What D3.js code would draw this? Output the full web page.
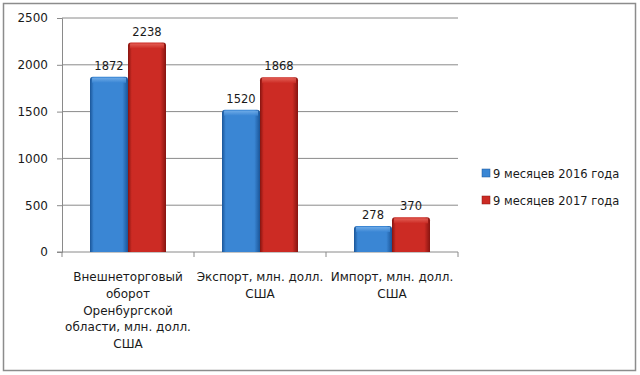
<!DOCTYPE html>
<html lang="ru">
<head>
  <meta charset="UTF-8">
  <title>Внешняя торговля</title>
  <style>
    body { margin: 0; background: #fff; }
    svg { display: block; }
    text { font-family: "DejaVu Sans", Verdana, sans-serif; fill: #1a1a1a; }
  </style>
</head>
<body>
<div class="chart"></div>
<script src="https://d3js.org/d3.v7.min.js"></script>
<script>
  // данные
  let categories = [
    ['Внешнеторговый', 'оборот', 'Оренбургской', 'области, млн. долл.', 'США'],
    ['Экспорт, млн. долл.', 'США'],
    ['Импорт, млн. долл.', 'США']
  ]
  let seriesNames = ['9 месяцев 2016 года', '9 месяцев 2017 года']
  let values2016 = [1872, 1520, 278]
  let values2017 = [2238, 1868, 370]
  let yTicks = [0, 500, 1000, 1500, 2000, 2500]

  let width = 640
  let height = 375
  let plotL = 62
  let plotR = 458
  let plotT = 18
  let plotB = 252
  let colors = [
    { dark: '#1a5598', mid: '#3a86d4', light: '#7ab3ec' },
    { dark: '#861410', mid: '#cc2b24', light: '#e86a60' }
  ]

  let svg = d3.select('.chart').append('svg').attr('width', width).attr('height', height)

  // градиенты столбиков
  let defs = svg.append('defs')
  colors.forEach((c, i) => {
    let g = defs.append('linearGradient').attr('id', 'grad' + i)
      .attr('x1', 0).attr('x2', 1).attr('y1', 0).attr('y2', 0)
    g.append('stop').attr('offset', '0%').attr('stop-color', c.dark)
    g.append('stop').attr('offset', '10%').attr('stop-color', c.mid)
    g.append('stop').attr('offset', '85%').attr('stop-color', c.mid)
    g.append('stop').attr('offset', '100%').attr('stop-color', c.dark)
    let t = defs.append('linearGradient').attr('id', 'top' + i)
      .attr('x1', 0).attr('x2', 0).attr('y1', 0).attr('y2', 1)
    t.append('stop').attr('offset', '0%').attr('stop-color', c.light)
    t.append('stop').attr('offset', '100%').attr('stop-color', c.mid)
  })

  // рамка
  svg.append('rect')
    .attr('x', 3.5).attr('y', 3.5).attr('width', 632).attr('height', 367)
    .attr('fill', 'none').attr('stroke', '#8c8c8c').attr('stroke-width', 1.5)

  let xScale = d3.scaleBand().domain(d3.range(categories.length)).range([plotL, plotR])
  let xInner = d3.scaleBand().domain(d3.range(seriesNames.length)).range([0, 76])
  let yScale = d3.scaleLinear().domain([0, 2500]).range([plotB, plotT])

  // сетка
  svg.append('g').selectAll('line').data(yTicks.filter(d => d > 0)).enter().append('line')
    .attr('x1', plotL).attr('x2', plotR)
    .attr('y1', d => yScale(d)).attr('y2', d => yScale(d))
    .attr('stroke', '#8a8a8a').attr('stroke-width', 1)

  // ось Y
  let yAxis = d3.axisLeft(yScale).tickValues(yTicks).tickFormat(d3.format('d')).tickSize(5).tickPadding(9)
  let gY = svg.append('g').attr('transform', 'translate(' + plotL + ',0)').call(yAxis)
  gY.select('.domain').attr('stroke', '#8a8a8a')
  gY.selectAll('line').attr('stroke', '#8a8a8a')
  gY.selectAll('text').attr('font-size', '12px').attr('fill', '#1a1a1a')
    .style('font-family', '"DejaVu Sans", Verdana, sans-serif')

  // ось X
  let gX = svg.append('g')
  gX.append('line').attr('x1', plotL - 5).attr('x2', plotR)
    .attr('y1', plotB).attr('y2', plotB).attr('stroke', '#8a8a8a')
  gX.selectAll('.tick').data(d3.range(categories.length + 1)).enter().append('line')
    .attr('x1', i => plotL + xScale.step() * i).attr('x2', i => plotL + xScale.step() * i)
    .attr('y1', plotB).attr('y2', plotB + 5).attr('stroke', '#8a8a8a')

  // столбики
  let series = [values2016, values2017]
  series.forEach((vals, s) => {
    let g = svg.append('g')
    let bw = xInner.bandwidth()
    vals.forEach((v, i) => {
      let x = xScale(i) + (xScale.bandwidth() - 76) / 2 + xInner(s)
      let y = yScale(v)
      let h = plotB - y
      g.append('path')
        .attr('d', 'M' + x + ',' + plotB + 'V' + (y + 3) + 'Q' + x + ',' + y + ' ' + (x + 3) + ',' + y +
          'H' + (x + bw - 3) + 'Q' + (x + bw) + ',' + y + ' ' + (x + bw) + ',' + (y + 3) + 'V' + plotB + 'Z')
        .attr('fill', 'url(#grad' + s + ')')
      g.append('rect').attr('x', x + 2).attr('y', y + 1).attr('width', bw - 4).attr('height', Math.min(5, h))
        .attr('fill', 'url(#top' + s + ')').attr('opacity', 0.8)
      svg.append('text')
        .attr('x', x + bw / 2).attr('y', y - 7)
        .attr('text-anchor', 'middle').attr('font-size', '11.5px')
        .text(v)
    })
  })

  // подписи категорий
  categories.forEach((lines, i) => {
    let t = svg.append('text').attr('text-anchor', 'middle').attr('font-size', '12px')
      .attr('x', xScale(i) + xScale.bandwidth() / 2)
    lines.forEach((ln, j) => {
      t.append('tspan').attr('x', xScale(i) + xScale.bandwidth() / 2)
        .attr('y', 281 + j * 16.8).text(ln)
    })
  })

  // легенда
  let legend = svg.append('g')
  seriesNames.forEach((name, s) => {
    let ly = 174 + s * 27
    legend.append('rect').attr('x', 482).attr('y', ly - 5).attr('width', 8).attr('height', 8)
      .attr('fill', colors[s].mid).attr('stroke', colors[s].dark).attr('stroke-width', 0.5)
    legend.append('text').attr('x', 493).attr('y', ly + 4).attr('font-size', '11.5px').text(name)
  })
</script>
</body>
</html>
